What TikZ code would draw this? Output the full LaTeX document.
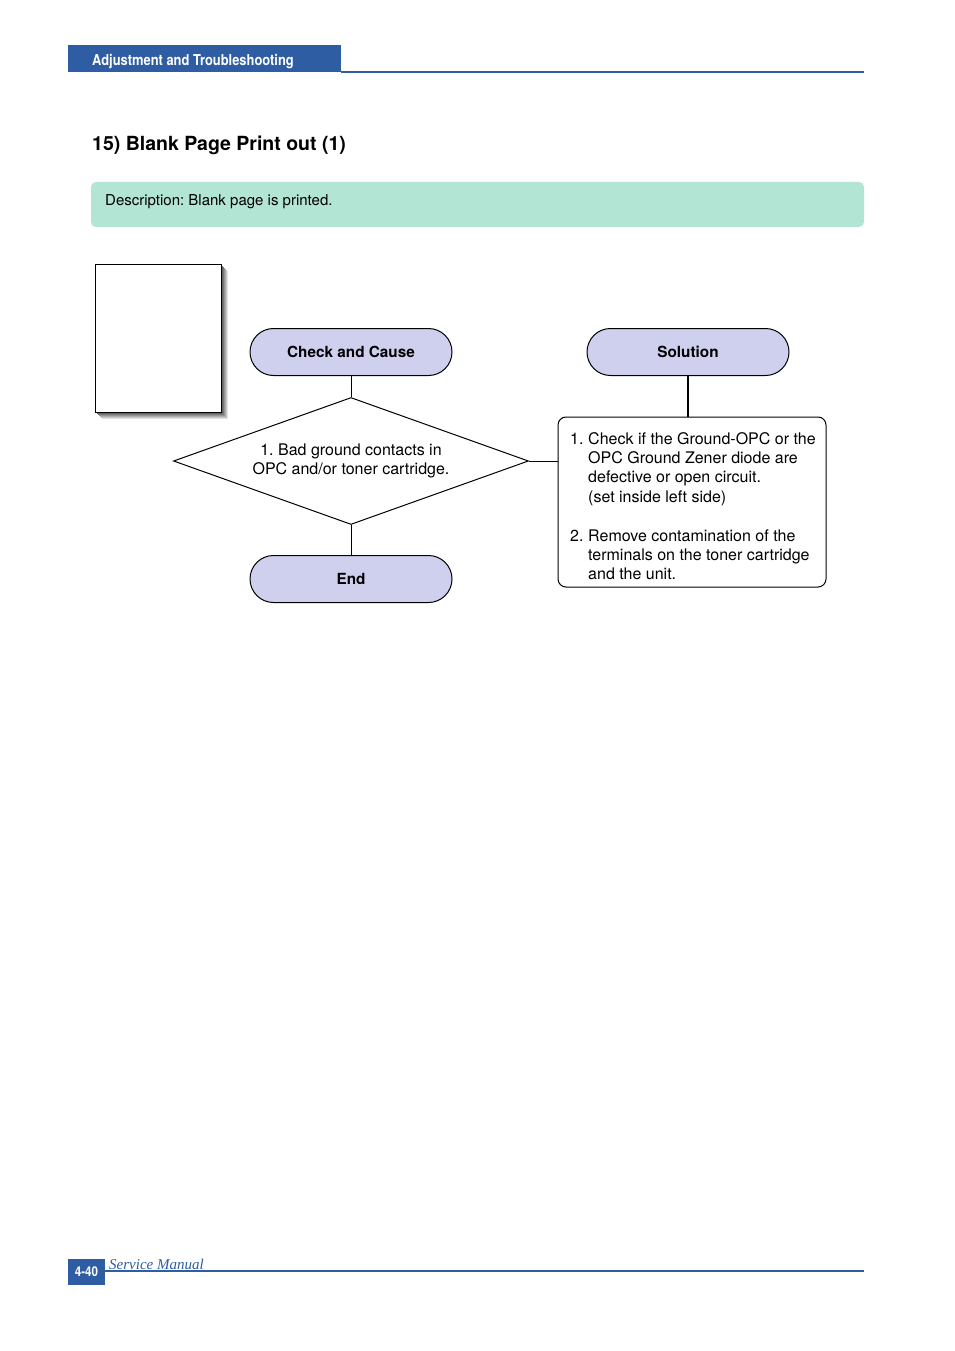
\documentclass[tikz,border=0pt]{standalone}
\usepackage{fontspec}
\setmainfont{TeX Gyre Heros}
\newfontfamily\serifit{Liberation Serif}
\newfontfamily\condsans[FakeStretch=0.86]{TeX Gyre Heros}
\usetikzlibrary{shapes.geometric}
\definecolor{hdrblue}{RGB}{47,93,164}
\definecolor{descgreen}{RGB}{178,229,212}
\definecolor{pillfill}{RGB}{207,207,238}
\frenchspacing
\begin{document}
\begin{tikzpicture}[x=1pt,y=-1pt,
 pillbox/.style={draw, fill=pillfill, line width=1pt, rounded corners=23.5pt, minimum width=202pt, minimum height=47pt, inner sep=0pt, font=\fontsize{15.3}{18}\selectfont\bfseries},
 conn/.style={line width=1pt},
 body/.style={font=\fontsize{16}{19.4}\selectfont}]
\useasboundingbox (0,0) rectangle (954,1351);
\fill[white] (0,0) rectangle (954,1351);
% header
\fill[hdrblue] (68,45) rectangle (341,72);
\draw[hdrblue, line width=1.5pt] (341,72) -- (864,72);
\node[anchor=base west, inner sep=0pt, text=white, font=\condsans\fontsize{15}{17}\selectfont\bfseries] (hdr) at (92,66) {Adjustment and Troubleshooting};
% title
\node[anchor=base west, inner sep=0pt, font=\fontsize{19.5}{23}\selectfont\bfseries] (title) at (92,151) {15) Blank Page Print out (1)};
% description
\fill[descgreen, rounded corners=5pt] (91,182) rectangle (864,227);
\node[anchor=base west, inner sep=0pt, font=\fontsize{15}{18}\selectfont] (desc) at (105,205) {Description: Blank page is printed.};
% blank page picture
\foreach \o/\c in {7/12,6/22,5/32,4/42,3/52,2/62,1/72}{
  \fill[black!\c] (95+\o,264+\o) rectangle (221+\o,412+\o);
}
\draw[fill=white, line width=1pt] (95,264) rectangle (221,412);
% flow
\node[pillbox] (check) at (351,352) {Check and Cause};
\node[pillbox] (sol) at (688,352) {Solution};
\node[draw, diamond, aspect=2.8, minimum width=355pt, minimum height=127pt, inner sep=0pt, line width=1pt, body, align=center] (dia) at (351,461) {1. Bad ground contacts in\\OPC and/or toner cartridge.};
\node[pillbox] (end) at (351,579) {End};
\node[draw, rounded corners=8pt, line width=1pt, minimum width=268pt, minimum height=170pt] (solbox) at (692,502) {};
\node[body, anchor=north west, align=left, inner sep=0pt] (soltext) at (570,432) {\makebox[18pt][l]{1.}Check if the Ground-OPC or the\\
\hspace*{18pt}OPC Ground Zener diode are\\
\hspace*{18pt}defective or open circuit.\\
\hspace*{18pt}(set inside left side)\\[19.4pt]
\makebox[18pt][l]{2.}Remove contamination of the\\
\hspace*{18pt}terminals on the toner cartridge\\
\hspace*{18pt}and the unit.};
\draw[conn] (check.south) -- (dia.north);
\draw[conn] (dia.south) -- (end.north);
\draw[conn] (dia.east) -- (dia.east -| solbox.west);
\draw[line width=1.8pt] (sol.south) -- (sol.south |- solbox.north);
% footer
\fill[hdrblue] (68,1259) rectangle (105,1285);
\draw[hdrblue, line width=1.2pt] (105,1271) -- (864,1271);
\node[text=white, inner sep=0pt, font=\condsans\fontsize{13.5}{15}\selectfont\bfseries] (pg) at (86.5,1271.5) {4-40};
\node[anchor=base west, inner sep=0pt, text=hdrblue, font=\fontsize{15}{17}\serifit\itshape] (sm) at (109,1269) {Service Manual};
\end{tikzpicture}
\end{document}
